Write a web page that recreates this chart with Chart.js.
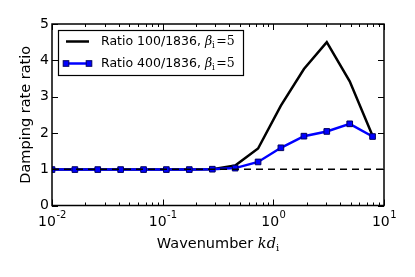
<!DOCTYPE html>
<html>
<head>
<meta charset="utf-8">
<script src="https://cdn.jsdelivr.net/npm/chart.js@4"></script>
<style>
  html, body { margin: 0; padding: 0; background: #fff; }
  #wrap { width: 415px; height: 277px; }
</style>
</head>
<body>
<div id="wrap"><canvas id="chart" width="415" height="277"></canvas></div>
<script>
// wavenumber k*d_i (log spaced)
const kd = [0.01, 0.0161, 0.0259, 0.0417, 0.0672, 0.108, 0.174, 0.281, 0.452, 0.728, 1.17, 1.89, 3.04, 4.90, 7.88];
const ratio_100 = [0.99, 0.99, 0.99, 0.99, 0.99, 0.99, 0.99, 1.0, 1.1, 1.57, 2.75, 3.76, 4.50, 3.42, 1.92];
const ratio_400 = [0.99, 0.99, 0.99, 0.99, 0.99, 0.99, 0.99, 1.0, 1.03, 1.2, 1.59, 1.91, 2.04, 2.25, 1.90];
const ref_x = [0.01, 10];
const ref_y = [1, 1];
const x_ticks = [0.01, 0.1, 1, 10];
const x_tick_exps = ["-2", "-1", "0", "1"];
const y_ticks = [0, 1, 2, 3, 4, 5];

const SANS = "'DejaVu Sans'";
const SERIF = "'DejaVu Serif'";

function to_points(xs, ys) {
  return xs.map((x, i) => ({ x: x, y: ys[i] }));
}

// draws frame, inward ticks, tick labels of x, axis titles and legend (matplotlib look)
const frame_plugin = {
  id: "frame_plugin",
  afterDatasetsDraw(chart) {
    const ctx = chart.ctx;
    const a = chart.chartArea;
    const xs = chart.scales.x;
    const ys = chart.scales.y;
    ctx.save();
    ctx.strokeStyle = "#000";
    ctx.lineWidth = 1;

    // ticks
    ctx.beginPath();
    for (let d = -2; d <= 1; d++) {
      for (let m = 1; m <= 9; m++) {
        const v = m * Math.pow(10, d);
        if (v > 10.0001) continue;
        const px = Math.round(xs.getPixelForValue(v)) + 0.5;
        const len = m === 1 ? 6 : 3;
        ctx.moveTo(px, a.bottom); ctx.lineTo(px, a.bottom - len);
        ctx.moveTo(px, a.top); ctx.lineTo(px, a.top + len);
      }
    }
    y_ticks.forEach(function (v) {
      const py = Math.round(ys.getPixelForValue(v)) + 0.5;
      ctx.moveTo(a.left, py); ctx.lineTo(a.left + 6, py);
      ctx.moveTo(a.right, py); ctx.lineTo(a.right - 6, py);
    });
    ctx.stroke();

    // frame
    ctx.lineWidth = 1.5;
    ctx.strokeRect(a.left, a.top, a.right - a.left, a.bottom - a.top);

    // x tick labels 10^n
    ctx.fillStyle = "#000";
    ctx.textBaseline = "alphabetic";
    ctx.textAlign = "left";
    x_ticks.forEach(function (v, i) {
      const px = xs.getPixelForValue(v);
      ctx.font = "14px " + SANS;
      const wb = ctx.measureText("10").width;
      ctx.font = "10px " + SANS;
      const we = ctx.measureText(x_tick_exps[i]).width;
      const sx = px - (wb + we) / 2;
      ctx.font = "14px " + SANS;
      ctx.fillText("10", sx, 226);
      ctx.font = "10px " + SANS;
      ctx.fillText(x_tick_exps[i], sx + wb + 0.5, 218);
    });

    // x title
    const t1 = "Wavenumber ";
    ctx.font = "14.5px " + SANS;
    const w1 = ctx.measureText(t1).width;
    ctx.font = "italic 14.5px " + SERIF;
    const w2 = ctx.measureText("kd").width;
    ctx.font = "10px " + SERIF;
    const w3 = ctx.measureText("i").width;
    let x0 = (a.left + a.right) / 2 - (w1 + w2 + w3) / 2;
    const by = 248;
    ctx.font = "14.5px " + SANS;
    ctx.fillText(t1, x0, by);
    ctx.font = "italic 14.5px " + SERIF;
    ctx.fillText("kd", x0 + w1, by);
    ctx.font = "10px " + SERIF;
    ctx.fillText("i", x0 + w1 + w2, by + 3);

    // y title
    ctx.save();
    ctx.translate(30, (a.top + a.bottom) / 2);
    ctx.rotate(-Math.PI / 2);
    ctx.textAlign = "center";
    ctx.font = "14.5px " + SANS;
    ctx.fillText("Damping rate ratio", 0, 0);
    ctx.restore();

    // legend
    const lx = 58.5, ly = 30.5, lw = 185, lh = 45;
    ctx.fillStyle = "#fff";
    ctx.fillRect(lx, ly, lw, lh);
    ctx.lineWidth = 1.2;
    ctx.strokeStyle = "#000";
    ctx.strokeRect(lx, ly, lw, lh);
    const rows = [
      { label: "Ratio 100/1836, ", ds: chart.data.datasets[2], y: 41.5, marker: false },
      { label: "Ratio 400/1836, ", ds: chart.data.datasets[1], y: 63.5, marker: true },
    ];
    rows.forEach(function (r) {
      ctx.strokeStyle = r.ds.borderColor;
      ctx.lineWidth = r.ds.borderWidth;
      ctx.beginPath();
      ctx.moveTo(66, r.y); ctx.lineTo(89, r.y);
      ctx.stroke();
      if (r.marker) {
        [66, 89].forEach(function (mx) {
          ctx.fillStyle = r.ds.pointBackgroundColor;
          ctx.fillRect(mx - 2.8, r.y - 2.8, 5.6, 5.6);
          ctx.strokeStyle = r.ds.pointBorderColor;
          ctx.lineWidth = 1;
          ctx.strokeRect(mx - 2.8, r.y - 2.8, 5.6, 5.6);
        });
      }
      ctx.fillStyle = "#000";
      ctx.textAlign = "left";
      ctx.textBaseline = "middle";
      let tx = 101;
      ctx.font = "12.5px " + SANS;
      ctx.fillText(r.label, tx, r.y);
      tx += ctx.measureText(r.label).width;
      ctx.font = "italic 12.5px " + SERIF;
      ctx.fillText("\u03B2", tx, r.y);
      tx += ctx.measureText("\u03B2").width;
      ctx.font = "8.5px " + SERIF;
      ctx.fillText("i", tx, r.y + 4);
      tx += ctx.measureText("i").width + 1.5;
      ctx.font = "12.5px " + SERIF;
      ctx.fillText("=5", tx, r.y);
    });
    ctx.restore();
  },
};

try {
  const ctx = document.getElementById("chart").getContext("2d");
  new Chart(ctx, {
    type: "line",
    data: {
      datasets: [
        {
          label: "ref",
          data: to_points(ref_x, ref_y),
          borderColor: "#000",
          borderWidth: 1.5,
          borderDash: [7, 5],
          pointRadius: 0,
        },
        {
          label: "Ratio 400/1836",
          data: to_points(kd, ratio_400),
          borderColor: "#0000ff",
          borderWidth: 2.5,
          pointStyle: "rect",
          pointRadius: 4,
          pointBackgroundColor: "#0000ff",
          pointBorderColor: "#000060",
          pointBorderWidth: 1,
        },
        {
          label: "Ratio 100/1836",
          data: to_points(kd, ratio_100),
          borderColor: "#000",
          borderWidth: 2.5,
          pointRadius: 0,
        },
      ],
    },
    options: {
      animation: false,
      responsive: false,
      events: [],
      layout: { padding: { top: 24, right: 31, left: 0, bottom: 0 } },
      plugins: { legend: { display: false }, tooltip: { enabled: false } },
      scales: {
        x: {
          type: "logarithmic",
          min: 0.01,
          max: 10,
          grid: { display: false, drawTicks: false },
          border: { display: false },
          afterBuildTicks: function (s) {
            s.ticks = x_ticks.map((v) => ({ value: v, major: true }));
          },
          afterFit: function (s) { s.height = 71.5; },
          ticks: { display: false },
        },
        y: {
          min: 0,
          max: 5,
          grid: { display: false, drawTicks: false },
          border: { display: false },
          afterBuildTicks: function (s) {
            s.ticks = y_ticks.map((v) => ({ value: v }));
          },
          afterFit: function (s) { s.width = 52; },
          ticks: {
            padding: 3,
            color: "#000",
            font: { family: "DejaVu Sans", size: 14 },
          },
        },
      },
    },
    plugins: [frame_plugin],
  });
} catch (e) {
  console.error(e);
}
</script>
</body>
</html>
